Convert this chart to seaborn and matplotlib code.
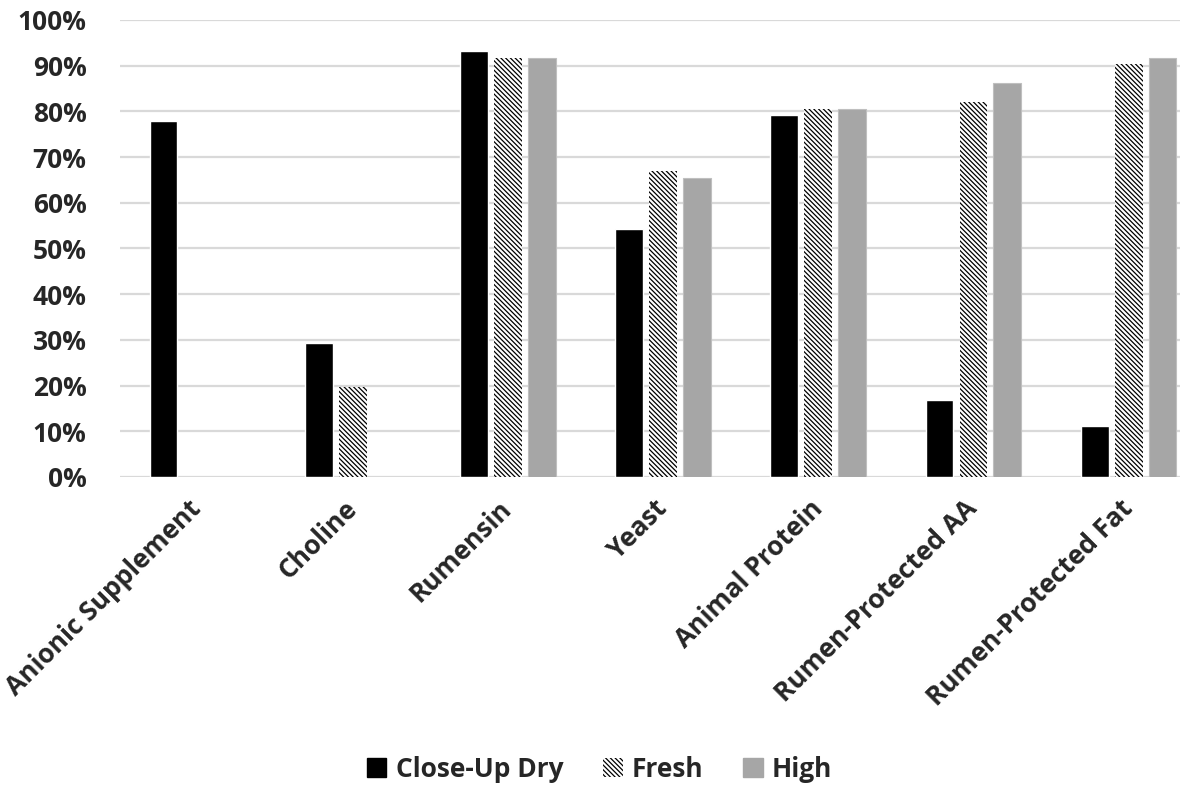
import numpy as np
import pandas as pd
import matplotlib.pyplot as plt
import matplotlib.ticker as mticker
from matplotlib.patches import Patch
import seaborn as sns

# ── Data ──────────────────────────────────────────────────
categories = ["Anionic Supplement", "Choline", "Rumensin", "Yeast",
              "Animal Protein", "Rumen-Protected AA", "Rumen-Protected Fat"]
close_up_dry = [77.9, 29.3, 93.2, 54.3, 79.2, 16.8, 11.2]
fresh = [np.nan, 19.7, 91.7, 67.0, 80.6, 82.0, 90.4]
high = [np.nan, np.nan, 91.7, 65.4, 80.6, 86.2, 91.7]
groups = ["Close-Up Dry", "Fresh", "High"]

df = pd.DataFrame({
    "category": categories * 3,
    "group": [g for g in groups for _ in categories],
    "value": close_up_dry + fresh + high,
})

sns.set_theme(style="white")
plt.rcParams["font.family"] = ["Open Sans", "DejaVu Sans"]
plt.rcParams["hatch.linewidth"] = 0.9

fig, ax = plt.subplots(figsize=(11.99, 7.93), dpi=100)
fig.subplots_adjust(left=0.1, right=0.984, top=0.9748, bottom=0.3985)

HATCH = "\\" * 7
colors = {"Close-Up Dry": "#000000", "Fresh": "#ffffff", "High": "#a6a6a6"}
sns.barplot(data=df, x="category", y="value", hue="group", palette=colors,
            width=0.656, gap=0.18, ax=ax, legend=False, zorder=3)

# hatch the Fresh bars
for patch in ax.containers[1]:
    patch.set_hatch(HATCH)
    patch.set_edgecolor("#000000")
    patch.set_linewidth(0)
for patch in ax.containers[2]:
    patch.set_edgecolor("#bfbfbf")
    patch.set_linewidth(0.8)

ax.set_ylim(0, 100)
ax.set_xlim(-0.5, 6.33)
ax.yaxis.set_major_locator(mticker.MultipleLocator(10))
ax.yaxis.set_major_formatter(mticker.PercentFormatter(decimals=0))
ax.grid(axis="y", color="#d9d9d9", linewidth=1.6, zorder=0)
for s in ax.spines.values():
    s.set_visible(False)
ax.set_xlabel("")
ax.set_ylabel("")
ax.tick_params(axis="y", length=0, labelsize=19, pad=24)
ax.tick_params(axis="x", length=0, labelsize=19, pad=20)
for lbl in ax.get_yticklabels():
    lbl.set_fontweight("bold")
ax.set_xticks(range(len(categories)))
ax.set_xticklabels(categories, rotation=45, ha="right", va="center",
                   rotation_mode="anchor", fontweight="bold", fontsize=19)

handles = [
    Patch(facecolor="#000000", edgecolor="#000000"),
    Patch(facecolor="#ffffff", edgecolor="#ffffff", hatch=HATCH),
    Patch(facecolor="#a6a6a6", edgecolor="#a6a6a6"),
]
leg = fig.legend(handles, groups, loc="center", bbox_to_anchor=(0.5, 0.03),
                 ncol=3, frameon=False, handlelength=0.75, handleheight=0.75,
                 handletextpad=0.35, columnspacing=1.5,
                 prop={"size": 19, "weight": "bold"})
leg.legend_handles[1].set_edgecolor("#000000")
leg.legend_handles[1].set_linewidth(0)

fig.savefig("out.png", dpi=100)
